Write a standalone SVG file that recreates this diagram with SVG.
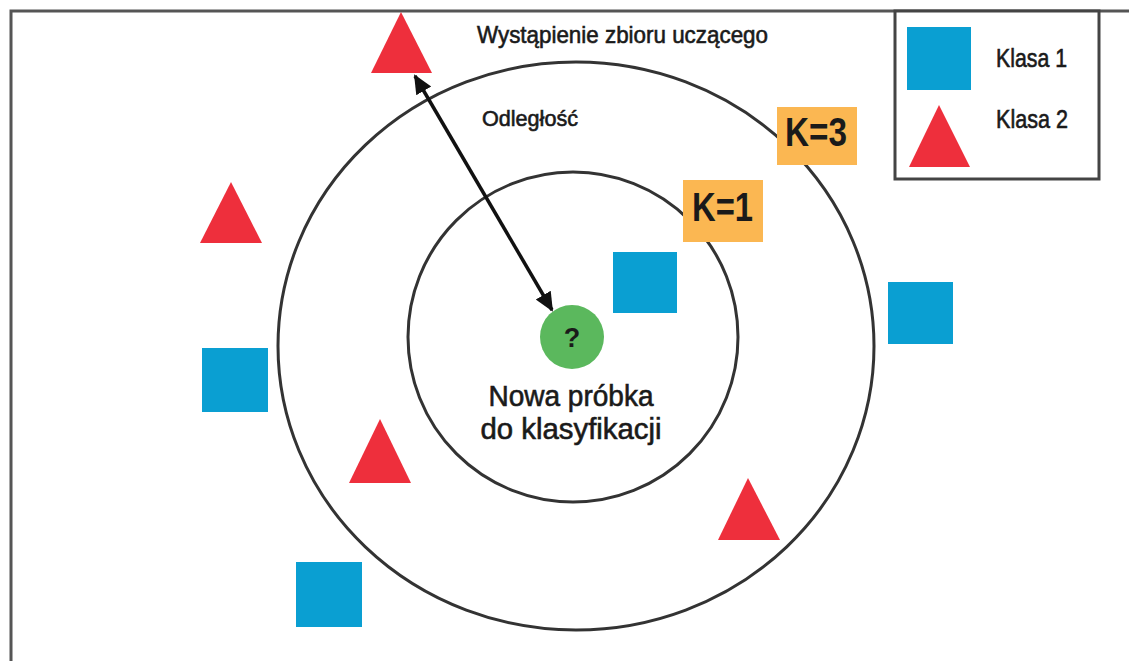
<svg xmlns="http://www.w3.org/2000/svg" width="1129" height="661" viewBox="0 0 1129 661">
  <style>
    .frame { fill: none; stroke: #555; stroke-width: 3; }
    .ring { fill: none; stroke: #333; stroke-width: 3; }
    .c1 { fill: #0a9fd2; }
    .c2 { fill: #ee2f3c; }
    .tag { fill: #fbb752; }
    .lbl { font-family: "Liberation Sans Narrow", "Liberation Sans", Arial, sans-serif; fill: #1a1a1a; stroke: #1a1a1a; stroke-width: 0.6; }
    .k { font-family: "Liberation Sans Narrow", "Liberation Sans", Arial, sans-serif; font-weight: bold; fill: #1a1a1a; }
    .arrow { stroke: #111; stroke-width: 3.5; fill: none; }
  </style>
  <defs>
    <marker id="head" viewBox="0 0 10 10" refX="9" refY="5" markerWidth="5.5" markerHeight="5.5" orient="auto-start-reverse" markerUnits="strokeWidth">
      <path d="M0,0.5 L10,5 L0,9.5 z" fill="#111"/>
    </marker>
  </defs>

  <rect width="1129" height="661" fill="#ffffff"/>
  <!-- outer frame, running off the right and bottom edges -->
  <rect class="frame" x="11" y="11" width="1200" height="700"/>

  <!-- neighbourhood rings -->
  <g id="rings">
    <ellipse id="ring-k3" class="ring" cx="576" cy="346" rx="298" ry="284"/>
    <circle id="ring-k1" class="ring" cx="573" cy="337" r="165"/>
  </g>

  <!-- connectors -->
  <g id="connectors">
    <line class="arrow" x1="415" y1="76" x2="552" y2="310" marker-start="url(#head)" marker-end="url(#head)"/>
  </g>

  <!-- training points -->
  <g id="tri-top"><polygon class="c2" points="401,12 432,73 371,73"/></g>
  <g id="tri-left"><polygon class="c2" points="231,182 262,243 200,243"/></g>
  <g id="tri-mid"><polygon class="c2" points="380,419 411,483 349,483"/></g>
  <g id="tri-right"><polygon class="c2" points="748,478 780,540 718,540"/></g>
  <g id="sq-left"><rect class="c1" x="202" y="348" width="66" height="64"/></g>
  <g id="sq-inner"><rect class="c1" x="613" y="252" width="64" height="61"/></g>
  <g id="sq-right"><rect class="c1" x="888" y="282" width="65" height="62"/></g>
  <g id="sq-bottom"><rect class="c1" x="296" y="562" width="66" height="65"/></g>

  <!-- query sample -->
  <g id="query">
    <circle cx="572" cy="337" r="32" fill="#5bb85d"/>
    <text class="k" x="572" y="347" font-size="27" text-anchor="middle">?</text>
    <text class="lbl" x="571" y="406" font-size="29" text-anchor="middle" textLength="165" lengthAdjust="spacingAndGlyphs">Nowa próbka</text>
    <text class="lbl" x="571" y="439" font-size="29" text-anchor="middle" textLength="181" lengthAdjust="spacingAndGlyphs">do klasyfikacji</text>
  </g>

  <!-- K tags -->
  <g id="tag-k3">
    <rect class="tag" x="777" y="107" width="80" height="58"/>
    <text class="k" x="785" y="146" font-size="41" textLength="62" lengthAdjust="spacingAndGlyphs">K=3</text>
  </g>
  <g id="tag-k1">
    <rect class="tag" x="683" y="180" width="80" height="62"/>
    <text class="k" x="692" y="221" font-size="41" textLength="61" lengthAdjust="spacingAndGlyphs">K=1</text>
  </g>

  <!-- annotations -->
  <g id="label-instance">
    <text class="lbl" x="477" y="43" font-size="24" textLength="291" lengthAdjust="spacingAndGlyphs">Wystąpienie zbioru uczącego</text>
  </g>
  <g id="label-distance">
    <text class="lbl" x="482" y="126" font-size="22" textLength="96" lengthAdjust="spacingAndGlyphs">Odległość</text>
  </g>

  <!-- legend -->
  <g id="legend">
    <rect x="895" y="11" width="204" height="168" fill="#fff" stroke="#444" stroke-width="3"/>
    <rect class="c1" x="907" y="27" width="64" height="63"/>
    <polygon class="c2" points="939,105 970,167 909,167"/>
    <text class="lbl" x="996" y="67" font-size="25" textLength="71" lengthAdjust="spacingAndGlyphs">Klasa 1</text>
    <text class="lbl" x="996" y="128" font-size="25" textLength="72" lengthAdjust="spacingAndGlyphs">Klasa 2</text>
  </g>
</svg>
